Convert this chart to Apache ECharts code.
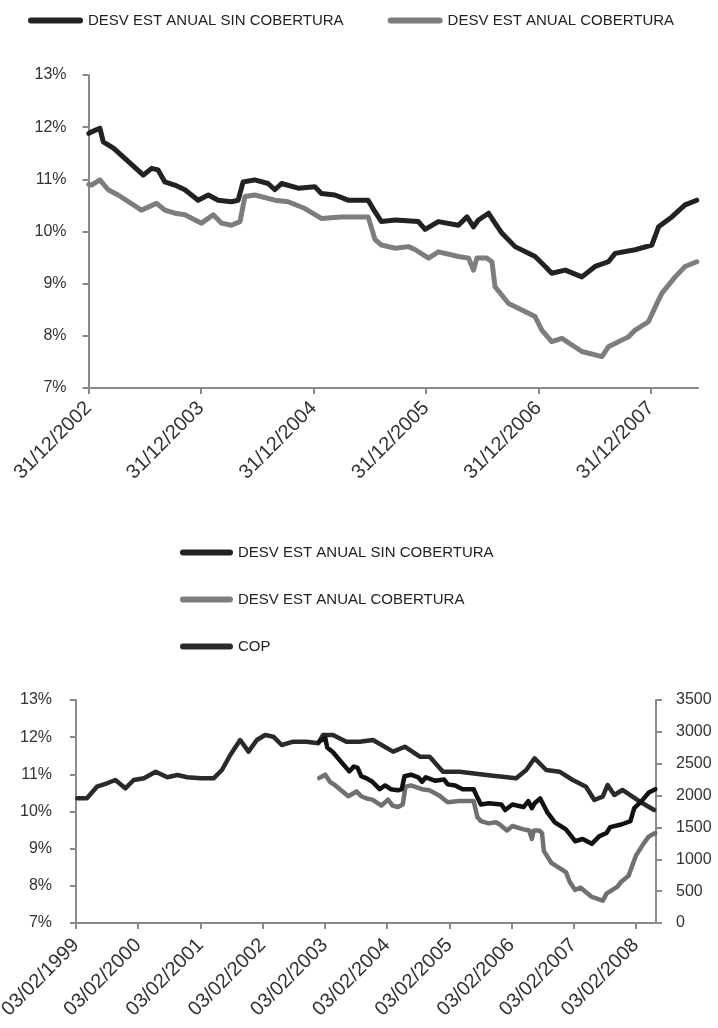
<!DOCTYPE html>
<html lang="es">
<head>
<meta charset="utf-8">
<script src="https://cdn.jsdelivr.net/npm/echarts@6/dist/echarts.min.js"></script>
<style>
  html, body { margin: 0; background: #fff; }
  #chart { width: 718px; height: 1028px; }
</style>
</head>
<body>
<div id="chart"></div>
<script>
var NAME_SIN = 'DESV EST ANUAL SIN COBERTURA';
var NAME_COB = 'DESV EST ANUAL COBERTURA';
var NAME_COP = 'COP';

// tick labels of the two date axes
var ticksTop = ['31/12/2002', '31/12/2003', '31/12/2004', '31/12/2005', '31/12/2006', '31/12/2007'];
var ticksBottom = ['03/02/1999', '03/02/2000', '03/02/2001', '03/02/2002', '03/02/2003',
  '03/02/2004', '03/02/2005', '03/02/2006', '03/02/2007', '03/02/2008'];

// annual std dev without hedge (%)
var sinCobertura = [
  ['2003-01-01', 11.88], ['2003-01-10', 11.91], ['2003-02-06', 11.98], ['2003-02-17', 11.72],
  ['2003-03-22', 11.60], ['2003-04-28', 11.40], ['2003-06-27', 11.08], ['2003-07-24', 11.21],
  ['2003-08-14', 11.18], ['2003-09-05', 10.95], ['2003-10-07', 10.89], ['2003-11-09', 10.80],
  ['2003-12-22', 10.60], ['2004-01-24', 10.70], ['2004-02-25', 10.60], ['2004-04-08', 10.57],
  ['2004-04-30', 10.60], ['2004-05-16', 10.95], ['2004-06-23', 10.99], ['2004-08-05', 10.92],
  ['2004-08-27', 10.80], ['2004-09-18', 10.92], ['2004-11-11', 10.83], ['2005-01-04', 10.86],
  ['2005-01-25', 10.73], ['2005-03-10', 10.70], ['2005-04-22', 10.60], ['2005-06-26', 10.60],
  ['2005-07-18', 10.38], ['2005-08-08', 10.19], ['2005-09-22', 10.22], ['2005-12-06', 10.19],
  ['2005-12-28', 10.04], ['2006-02-09', 10.19], ['2006-04-15', 10.12], ['2006-05-13', 10.28],
  ['2006-06-03', 10.09], ['2006-06-19', 10.22], ['2006-07-22', 10.35], ['2006-08-12', 10.16],
  ['2006-09-03', 9.97], ['2006-10-16', 9.71], ['2006-12-20', 9.52], ['2007-01-22', 9.33],
  ['2007-02-12', 9.20], ['2007-03-28', 9.26], ['2007-05-21', 9.13], ['2007-07-03', 9.33],
  ['2007-08-15', 9.42], ['2007-09-06', 9.58], ['2007-11-10', 9.65], ['2008-01-03', 9.74],
  ['2008-01-25', 10.09], ['2008-03-08', 10.28], ['2008-04-20', 10.51], ['2008-05-28', 10.60]
];

// annual std dev with hedge (%)
var cobertura = [
  ['2003-01-01', 10.90], ['2003-01-10', 10.89], ['2003-02-06', 10.99], ['2003-03-05', 10.80],
  ['2003-04-06', 10.70], ['2003-06-21', 10.41], ['2003-08-09', 10.54], ['2003-09-05', 10.41],
  ['2003-10-07', 10.35], ['2003-11-09', 10.32], ['2004-01-02', 10.16], ['2004-02-09', 10.32],
  ['2004-03-07', 10.16], ['2004-04-08', 10.12], ['2004-05-06', 10.19], ['2004-05-22', 10.67],
  ['2004-06-23', 10.70], ['2004-08-27', 10.60], ['2004-10-09', 10.57], ['2004-12-03', 10.44],
  ['2005-01-25', 10.25], ['2005-03-31', 10.28], ['2005-06-26', 10.28], ['2005-07-18', 9.85],
  ['2005-08-08', 9.74], ['2005-09-22', 9.68], ['2005-11-04', 9.71], ['2005-11-26', 9.65],
  ['2006-01-08', 9.49], ['2006-02-09', 9.61], ['2006-04-15', 9.52], ['2006-05-18', 9.49],
  ['2006-06-03', 9.26], ['2006-06-14', 9.49], ['2006-07-16', 9.49], ['2006-08-02', 9.42],
  ['2006-08-12', 8.94], ['2006-09-25', 8.62], ['2006-12-20', 8.37], ['2007-01-11', 8.11],
  ['2007-02-12', 7.89], ['2007-03-17', 7.95], ['2007-05-21', 7.70], ['2007-07-25', 7.60],
  ['2007-08-15', 7.79], ['2007-10-19', 7.98], ['2007-11-10', 8.11], ['2007-12-23', 8.27],
  ['2008-01-25', 8.69], ['2008-02-05', 8.82], ['2008-03-19', 9.13], ['2008-04-20', 9.33],
  ['2008-05-28', 9.42]
];

// COP exchange rate (right axis)
var cop = [
  ['1999-02-10', 1957], ['1999-04-08', 1957], ['1999-06-06', 2139], ['1999-08-04', 2193],
  ['1999-09-22', 2244], ['1999-11-20', 2114], ['2000-01-08', 2244], ['2000-03-08', 2271],
  ['2000-05-16', 2375], ['2000-07-23', 2287], ['2000-09-20', 2323], ['2000-11-17', 2287],
  ['2001-02-03', 2271], ['2001-04-21', 2271], ['2001-06-09', 2401], ['2001-07-28', 2637],
  ['2001-09-24', 2872], ['2001-11-12', 2689], ['2001-12-31', 2872], ['2002-02-18', 2951],
  ['2002-04-07', 2924], ['2002-05-26', 2794], ['2002-08-02', 2846], ['2002-10-19', 2846],
  ['2002-12-26', 2820], ['2003-01-24', 2951], ['2003-03-23', 2951], ['2003-06-10', 2846],
  ['2003-08-27', 2846], ['2003-11-13', 2872], ['2004-03-10', 2689], ['2004-05-18', 2767],
  ['2004-08-14', 2610], ['2004-10-11', 2610], ['2004-12-28', 2375], ['2005-04-05', 2375],
  ['2005-09-09', 2323], ['2006-03-03', 2271], ['2006-05-01', 2401], ['2006-06-19', 2585],
  ['2006-08-26', 2401], ['2006-11-12', 2375], ['2007-01-29', 2244], ['2007-04-17', 2139],
  ['2007-06-05', 1931], ['2007-07-24', 1983], ['2007-08-22', 2166], ['2007-09-30', 2009],
  ['2007-11-17', 2088], ['2008-01-15', 1983], ['2008-03-14', 1879], ['2008-05-21', 1774]
];

function parseDMY(s) {
  var p = s.split('/');
  return new Date(+p[2], +p[1] - 1, +p[0]).getTime();
}
function parseISO(s) {
  var p = s.split('-');
  return new Date(+p[0], +p[1] - 1, +p[2]).getTime();
}
function toPoints(rows) {
  return rows.map(function (r) { return [parseISO(r[0]), r[1]]; });
}

var FONT = "'Liberation Sans', Arial, sans-serif";
var AXIS_GREY = '#8a8a8a';
var ICON = 'path://M3,0H52A3,3,0,0,1,52,6H3A3,3,0,0,1,3,0Z';

// dates are plotted as timestamps on a value axis, ticks only at the labelled dates
function dateAxis(gridIndex, labels, min, max, margin) {
  var values = labels.map(parseDMY);
  return {
    type: 'value',
    gridIndex: gridIndex,
    min: min,
    max: max,
    splitLine: { show: false },
    axisLine: { lineStyle: { color: AXIS_GREY, width: 2 } },
    axisTick: { customValues: values, length: 6, lineStyle: { color: AXIS_GREY, width: 2 } },
    axisLabel: {
      customValues: values,
      rotate: 45,
      margin: margin,
      color: '#333',
      fontFamily: FONT,
      fontSize: 20,
      formatter: function (v) {
        var i = values.indexOf(v);
        return i < 0 ? '' : labels[i];
      }
    }
  };
}

function valueAxis(gridIndex, min, max, interval, fmt, pos, margin) {
  return {
    type: 'value',
    gridIndex: gridIndex,
    position: pos,
    min: min,
    max: max,
    interval: interval,
    splitLine: { show: false },
    axisLine: { show: true, lineStyle: { color: AXIS_GREY, width: 2 } },
    axisTick: { show: true, length: 6, lineStyle: { color: AXIS_GREY, width: 2 } },
    axisLabel: { formatter: fmt, color: '#333', fontFamily: FONT, fontSize: 16, margin: margin }
  };
}

function line(name, rows, color, width, xi, yi) {
  return {
    name: name,
    type: 'line',
    data: toPoints(rows),
    xAxisIndex: xi,
    yAxisIndex: yi,
    showSymbol: false,
    symbol: 'none',
    color: color,
    lineStyle: { color: color, width: width, cap: 'round', join: 'round' }
  };
}

var legendText = { color: '#222', fontFamily: FONT, fontSize: 15 };

var chart = echarts.init(document.getElementById('chart'), null, { renderer: 'canvas' });
chart.setOption({
  animation: false,
  backgroundColor: '#fff',
  legend: [
    {
      data: [NAME_SIN, NAME_COB],
      left: 23, top: 8,
      icon: ICON, itemWidth: 55, itemHeight: 6, itemGap: 44,
      selectedMode: false,
      textStyle: legendText
    },
    {
      data: [NAME_SIN, NAME_COB, NAME_COP],
      orient: 'vertical',
      left: 175, top: 540,
      icon: ICON, itemWidth: 53, itemHeight: 6, itemGap: 32,
      selectedMode: false,
      textStyle: legendText
    }
  ],
  grid: [
    { left: 88.5, right: 20, top: 75, height: 313, outerBoundsMode: 'none' },
    { left: 76, right: 62, top: 700, height: 223, outerBoundsMode: 'none' }
  ],
  xAxis: [
    dateAxis(0, ticksTop, parseDMY('31/12/2002'), parseDMY('01/06/2008'), 17),
    dateAxis(1, ticksBottom, parseDMY('03/02/1999'), parseDMY('01/06/2008'), 19)
  ],
  yAxis: [
    valueAxis(0, 7, 13, 1, '{value}%', 'left', 22),
    valueAxis(1, 7, 13, 1, '{value}%', 'left', 24),
    valueAxis(1, 0, 3500, 500, function (v) { return String(v); }, 'right', 20)
  ],
  series: [
    line(NAME_SIN, sinCobertura, '#222222', 5, 0, 0),
    line(NAME_COB, cobertura, '#7d7d7d', 5, 0, 0),
    line(NAME_COP, cop, '#2a2a2a', 4.5, 1, 2),
    line(NAME_COB, cobertura, '#707070', 4.5, 1, 1),
    line(NAME_SIN, sinCobertura, '#111111', 4.5, 1, 1)
  ]
});
</script>
</body>
</html>
